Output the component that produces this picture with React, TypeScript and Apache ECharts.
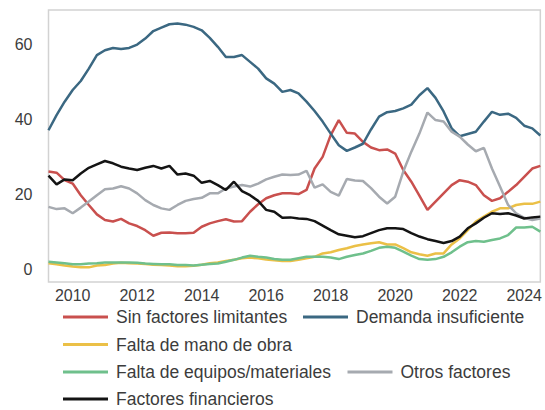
import React, { useEffect, useRef } from "react";
import * as echarts from "echarts";

// Quarterly observations, 2009 Q2 … 2024 Q3
const firstYear = 2009;
const firstQuarter = 2;
const nPoints = 62;
const categories: string[] = [];
for (let i = 0; i < nPoints; i++) {
  const q = firstQuarter - 1 + i;
  categories.push(`${firstYear + Math.floor(q / 4)}-T${(q % 4) + 1}`);
}

const sinFactores = [
  26.2, 25.9, 23.9, 23.0, 19.9, 17.3, 14.8, 13.3, 12.9, 13.6, 12.4, 11.7, 10.6, 9.1, 9.9, 10.0,
  9.8, 9.8, 9.9, 11.5, 12.4, 13.0, 13.5, 12.9, 13.0, 15.5, 17.5, 19.1, 19.9, 20.4, 20.4, 20.2,
  21.3, 27.0, 30.1, 35.9, 39.9, 36.5, 36.3, 34.1, 32.6, 31.9, 32.1, 31.0, 26.6, 23.5, 19.8, 16.0,
  18.2, 20.4, 22.6, 23.9, 23.5, 22.6, 19.9, 18.4, 19.1, 20.8, 22.6, 24.8, 27.0, 27.7,
];
const demanda = [
  37.2, 41.2, 44.8, 47.9, 50.3, 53.6, 57.2, 58.5, 59.1, 58.8, 59.1, 60.0, 61.6, 63.6, 64.5, 65.4,
  65.6, 65.3, 64.7, 63.8, 61.8, 59.4, 56.7, 56.7, 57.2, 55.4, 53.6, 51.0, 49.6, 47.4, 47.9, 47.0,
  44.8, 42.3, 39.5, 36.3, 33.2, 31.7, 32.6, 33.6, 37.4, 40.8, 42.0, 42.3, 43.0, 44.0, 46.5, 48.4,
  45.8, 42.2, 37.7, 35.6, 36.2, 36.8, 39.5, 42.1, 41.3, 41.6, 40.5, 38.4, 37.7, 35.8,
];
const manoObra = [
  1.8, 1.5, 1.2, 0.9, 0.7, 0.7, 1.2, 1.3, 1.7, 1.9, 1.8, 1.7, 1.6, 1.4, 1.3, 1.2,
  1.0, 1.0, 1.1, 1.4, 1.8, 2.0, 2.4, 2.7, 3.1, 3.3, 3.1, 2.8, 2.6, 2.4, 2.4, 2.7,
  3.1, 3.5, 4.4, 4.7, 5.3, 5.8, 6.4, 6.8, 7.1, 7.4, 6.8, 6.8, 5.8, 4.7, 4.2, 3.8,
  4.4, 4.4, 6.8, 8.4, 10.6, 12.9, 14.2, 15.5, 16.4, 16.4, 17.3, 17.6, 17.6, 18.2,
];
const equipos = [
  2.2, 2.0, 1.8, 1.5, 1.5, 1.7, 1.8, 2.0, 2.0, 2.0, 2.0, 1.9, 1.7, 1.6, 1.5, 1.5,
  1.3, 1.3, 1.2, 1.4, 1.6, 1.7, 2.2, 2.7, 3.3, 3.8, 3.5, 3.3, 2.9, 2.7, 2.7, 3.1,
  3.5, 3.5, 3.5, 3.3, 2.9, 3.5, 4.0, 4.4, 5.1, 5.9, 6.2, 5.9, 4.9, 3.8, 2.9, 2.7,
  2.9, 3.5, 4.7, 6.2, 7.4, 7.7, 7.5, 8.0, 8.4, 9.3, 11.3, 11.3, 11.5, 10.2,
];
const otros = [
  16.8, 16.2, 16.4, 15.1, 16.6, 18.2, 19.9, 21.5, 21.7, 22.3, 21.7, 20.4, 18.6, 17.3, 16.4, 16.0,
  17.3, 18.4, 18.9, 19.2, 20.4, 20.4, 21.7, 22.2, 22.6, 22.2, 23.0, 24.1, 24.8, 25.4, 25.3, 25.4,
  26.4, 21.9, 22.8, 20.8, 19.8, 24.2, 23.8, 23.7, 21.8, 19.5, 17.7, 19.5, 26.2, 31.5, 36.3, 41.9,
  39.9, 39.5, 36.8, 35.5, 33.4, 31.6, 32.5, 27.0, 22.2, 17.3, 15.1, 13.9, 13.3, 13.7,
];
const financieros = [
  25.1, 22.8, 24.1, 23.9, 25.7, 27.2, 28.1, 29.0, 28.4, 27.5, 27.0, 26.6, 27.2, 27.7, 27.0, 27.7,
  25.4, 25.7, 25.1, 23.2, 23.7, 22.6, 21.3, 23.5, 21.0, 19.9, 18.4, 16.0, 15.5, 13.9, 14.0, 13.7,
  13.6, 13.0, 11.8, 10.6, 9.5, 9.1, 8.7, 9.0, 9.8, 10.6, 11.1, 11.1, 10.9, 9.8, 8.9, 8.2,
  7.7, 7.2, 7.7, 8.9, 11.1, 12.4, 13.9, 15.1, 14.9, 15.1, 14.5, 13.7, 14.0, 14.2,
];

const yTicks = [0, 20, 40, 60];

const seriesDefs = [
  { name: "Sin factores limitantes", data: sinFactores, color: "#c9504e" },
  { name: "Demanda insuficiente", data: demanda, color: "#3b6882" },
  { name: "Falta de mano de obra", data: manoObra, color: "#ebc047" },
  { name: "Falta de equipos/materiales", data: equipos, color: "#6fc08c" },
  { name: "Otros factores", data: otros, color: "#a6aab0" },
  { name: "Factores financieros", data: financieros, color: "#141414" },
];

const legendPos = [
  { left: 63, top: 307 },
  { left: 303, top: 307 },
  { left: 63, top: 334.5 },
  { left: 63, top: 362 },
  { left: 347.5, top: 362 },
  { left: 63, top: 389 },
];

const FONT = "Liberation Sans, Arial, sans-serif";
const TEXT = "#3c3c3c";

export default function App() {
  const ref = useRef<HTMLDivElement>(null);
  useEffect(() => {
    if (!ref.current) return;
    const chart = echarts.init(ref.current, undefined, { renderer: "svg" });
    chart.setOption({
      animation: false,
      backgroundColor: "#ffffff",
      textStyle: { fontFamily: FONT },
      grid: {
        left: 48.5,
        right: 4,
        top: 10,
        bottom: 128,
        show: true,
        borderColor: "#d2d2d2",
        borderWidth: 1.5,
        backgroundColor: "transparent",
      },
      legend: seriesDefs.map((s, i) => ({
        data: [s.name],
        left: legendPos[i].left,
        top: legendPos[i].top,
        padding: 0,
        icon: "rect",
        itemWidth: 45,
        itemHeight: 3,
        selectedMode: false,
        textStyle: {
          fontFamily: FONT,
          fontSize: 17.5,
          color: TEXT,
          lineHeight: 20,
          padding: [0, 0, 0, 3],
        },
      })),
      xAxis: {
        type: "category",
        data: categories,
        boundaryGap: false,
        axisLine: { show: false },
        axisTick: { show: false },
        splitLine: { show: false },
        axisLabel: {
          interval: (index: number, value: string) => {
            const y = parseInt(value.slice(0, 4), 10);
            return value.endsWith("T1") && y % 2 === 0;
          },
          formatter: (v: string) => v.slice(0, 4),
          fontFamily: FONT,
          fontSize: 16,
          color: TEXT,
          margin: 5,
        },
      },
      yAxis: {
        type: "value",
        min: -3.2,
        max: 69.2,
        axisLine: { show: false },
        axisTick: { show: false },
        splitLine: { show: false },
        axisLabel: {
          customValues: yTicks,
          fontFamily: FONT,
          fontSize: 16,
          color: TEXT,
          margin: 16,
        },
      },
      series: seriesDefs.map((s) => ({
        name: s.name,
        type: "line",
        data: s.data,
        color: s.color,
        showSymbol: false,
        symbol: "none",
        lineStyle: { width: 2.5, color: s.color },
      })),
    });
    return () => chart.dispose();
  }, []);
  return <div ref={ref} style={{ width: 545, height: 410, position: "absolute", left: 0, top: 0 }} />;
}
